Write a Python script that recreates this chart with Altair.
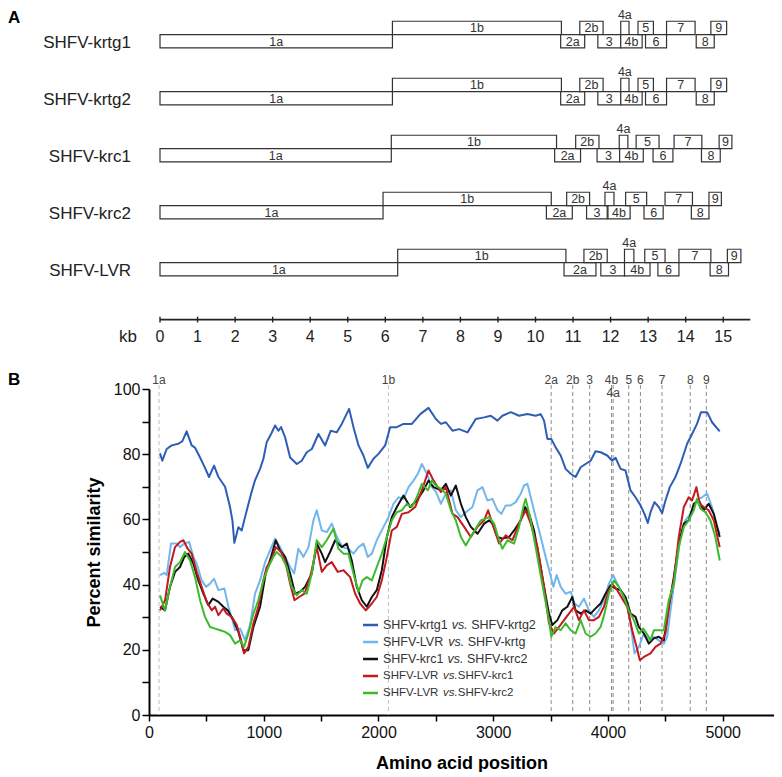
import altair as alt
import pandas as pd

FONT = "Liberation Sans"

# ---------------- Panel A data (genome maps, kb) ----------------
genomes = ["SHFV-krtg1", "SHFV-krtg2", "SHFV-krc1", "SHFV-krc2", "SHFV-LVR"]
orf_names = ["1a", "1b", "2a", "2b", "3", "4a", "4b", "5", "6", "7", "8", "9"]
upper_orfs = ["1b", "2b", "4a", "5", "7", "9"]

krtg1_start = [0.00, 6.19, 10.67, 11.18, 11.66, 12.27, 12.27, 12.73, 12.93, 13.49, 14.28, 14.67]
krtg1_end = [6.19, 10.69, 11.31, 11.80, 12.27, 12.49, 12.84, 13.14, 13.49, 14.25, 14.76, 15.09]
krtg2_start = [0.00, 6.19, 10.67, 11.18, 11.66, 12.27, 12.27, 12.73, 12.93, 13.49, 14.28, 14.67]
krtg2_end = [6.19, 10.69, 11.31, 11.80, 12.27, 12.49, 12.84, 13.14, 13.49, 14.25, 14.76, 15.09]
krc1_start = [0.00, 6.16, 10.51, 11.07, 11.64, 12.23, 12.24, 12.68, 13.13, 13.69, 14.42, 14.89]
krc1_end = [6.16, 10.56, 11.20, 11.69, 12.25, 12.46, 12.87, 13.29, 13.66, 14.43, 14.92, 15.23]
krc2_start = [0.00, 5.94, 10.29, 10.83, 11.36, 11.85, 11.93, 12.40, 12.89, 13.45, 14.15, 14.62]
krc2_end = [5.94, 10.42, 10.98, 11.44, 11.91, 12.09, 12.52, 12.96, 13.40, 14.18, 14.62, 14.95]
lvr_start = [0.00, 6.33, 10.76, 11.29, 11.74, 12.37, 12.37, 12.91, 13.26, 13.82, 14.65, 15.11]
lvr_end = [6.33, 10.81, 11.61, 11.91, 12.38, 12.62, 13.05, 13.45, 13.82, 14.67, 15.14, 15.47]

kb_ticks = list(range(0, 16))
kb_axis_end = 15.72

# ---------------- Panel B data (similarity plot) ----------------
feature_names = ["1a", "1b", "2a", "2b", "3", "4b", "4a", "5", "6", "7", "8", "9"]
feature_pos = [87, 2087, 3505, 3693, 3841, 4031, 4045, 4181, 4283, 4471, 4717, 4857]

krtg1_vs_krtg2 = [(96, 80.3), (116, 78), (154, 81.6), (198, 82.7), (256, 83.2), (291, 84), (328, 87),
    (372, 82.7), (401, 82), (445, 79), (488, 75.8), (523, 73), (567, 76.5), (605, 73), (663, 70),
    (706, 63.8), (727, 59.7), (744, 52.8), (779, 57.6), (808, 56.6), (837, 60.7), (890, 67.9),
    (924, 72), (968, 75.5), (997, 78.6), (1026, 83.7), (1064, 86.2), (1099, 88.8), (1128, 87.2),
    (1151, 88.3), (1186, 85.2), (1230, 79), (1288, 77), (1331, 78), (1375, 80.6), (1419, 81.6),
    (1477, 86.2), (1535, 82.7), (1584, 87.2), (1637, 86.7), (1680, 89.3), (1744, 93.9), (1782, 88.3),
    (1826, 82.7), (1869, 79.6), (1907, 75.8), (1956, 78.6), (2000, 80.1), (2058, 82.7), (2102, 88.3),
    (2160, 88.3), (2218, 89.3), (2291, 89.3), (2364, 92.3), (2436, 94.2), (2500, 90.8), (2544, 89.3),
    (2587, 89.8), (2645, 87.2), (2703, 87.7), (2776, 86.7), (2848, 90.8), (2921, 91.3), (2979, 91.8),
    (3037, 90.3), (3080, 91.8), (3153, 92.9), (3225, 91.8), (3298, 92.3), (3370, 91.8), (3414, 92.3),
    (3443, 90.3), (3472, 84.7), (3506, 84.7), (3544, 82.1), (3588, 79.6), (3631, 75.5), (3675, 74),
    (3718, 73), (3762, 76), (3805, 77), (3849, 78), (3892, 80.9), (3936, 80.6), (3994, 79.6),
    (4037, 78), (4066, 78.9), (4110, 75.5), (4153, 75), (4197, 68.9), (4240, 66.8), (4284, 64.3),
    (4318, 61.7), (4347, 58.9), (4371, 62.2), (4405, 65.3), (4443, 63.8), (4472, 61.9), (4501, 65.8),
    (4539, 69.9), (4588, 73), (4632, 77), (4690, 83.2), (4733, 86.2), (4776, 89.3), (4811, 92.9),
    (4864, 92.9), (4907, 89.8), (4974, 87)]

lvr_vs_krtg = [(96, 42.9), (134, 43.6), (154, 42.9), (192, 52.6), (241, 52.6), (270, 51.5), (308, 52.6),
    (349, 53.1), (387, 48.5), (416, 46.4), (459, 41.3), (497, 39.3), (532, 40.3), (567, 41.8),
    (605, 38.3), (657, 38.8), (692, 33.2), (727, 29.1), (750, 26), (794, 26.5), (837, 23), (881, 27.6),
    (924, 37.2), (968, 41.3), (1012, 46.9), (1055, 50.5), (1099, 54.1), (1142, 51.5), (1186, 48.5),
    (1230, 45.4), (1265, 43.4), (1302, 51), (1346, 48.5), (1390, 51.5), (1433, 59.7), (1462, 62.8),
    (1506, 56.6), (1549, 56.1), (1593, 58.7), (1637, 54.6), (1686, 51.5), (1738, 51), (1782, 49.5),
    (1826, 51.5), (1869, 52.6), (1907, 48.5), (1942, 49.5), (1985, 53.6), (2044, 57.7), (2087, 60.7),
    (2131, 64.8), (2174, 66.8), (2218, 66.3), (2262, 69.9), (2305, 71.9), (2343, 74), (2378, 77),
    (2422, 74), (2465, 69.9), (2500, 68.5), (2544, 64.8), (2587, 67.9), (2631, 68.9), (2674, 62.8),
    (2718, 60.7), (2761, 62.2), (2819, 63.8), (2863, 68.9), (2906, 69.9), (2950, 65.8), (2993, 66.3),
    (3037, 62.8), (3071, 61.7), (3109, 64.3), (3153, 64.3), (3196, 65.3), (3240, 67.9), (3269, 70.4),
    (3298, 70.9), (3327, 66.8), (3370, 60.7), (3414, 54.6), (3457, 48.5), (3495, 43.4), (3524, 39.3),
    (3553, 42.9), (3588, 39.3), (3631, 37.2), (3675, 37.8), (3709, 34.2), (3747, 33.2), (3791, 35.7),
    (3834, 32.1), (3878, 30.1), (3921, 32.1), (3965, 35.2), (4008, 40.3), (4046, 42.9), (4081, 40.3),
    (4124, 37.2), (4168, 33.2), (4197, 28.1), (4231, 18.9), (4269, 20.9), (4313, 25), (4356, 22.9),
    (4400, 24), (4443, 22.9), (4487, 21.9), (4516, 24), (4545, 32.1), (4588, 43.4), (4632, 54.6),
    (4675, 59.7), (4719, 61.7), (4776, 65.8), (4820, 66.8), (4864, 67.9), (4907, 63.8), (4951, 57.7),
    (4974, 55.6)]

krc1_vs_krc2 = [(96, 33.2), (140, 32.1), (183, 39.3), (227, 43.9), (270, 45.4), (308, 48.5), (343, 49.5),
    (387, 46.4), (430, 41.3), (474, 37.2), (517, 33.7), (555, 35.7), (605, 34.7), (648, 33.2),
    (686, 32.1), (735, 29.1), (779, 25.5), (823, 19.9), (866, 19.9), (910, 27), (968, 33.2),
    (1017, 43.4), (1064, 48.5), (1105, 53.6), (1142, 50.5), (1186, 48.5), (1230, 43.4), (1273, 37.2),
    (1317, 37.8), (1360, 39.3), (1419, 43.4), (1462, 52.6), (1506, 49.5), (1535, 46.9), (1578, 50),
    (1622, 53.6), (1680, 51.5), (1724, 52.6), (1767, 47.4), (1811, 39.3), (1855, 35.2), (1898, 33.2),
    (1942, 36.2), (1985, 38.3), (2029, 44.4), (2073, 54.6), (2116, 60.7), (2160, 63.8), (2218, 67.3),
    (2276, 63.8), (2334, 65.8), (2392, 68.9), (2436, 71.9), (2480, 69.9), (2544, 68.9), (2587, 70.9),
    (2631, 67.3), (2674, 70.4), (2718, 64.8), (2761, 60.7), (2805, 57.7), (2863, 55.6), (2921, 58.7),
    (2964, 59.7), (2993, 58.7), (3037, 54.6), (3080, 54.1), (3138, 54.6), (3182, 56.6), (3240, 59.7),
    (3277, 63.8), (3312, 61.7), (3356, 56.6), (3399, 48.5), (3443, 39.3), (3486, 31.1), (3515, 27.6),
    (3559, 29.1), (3602, 32.1), (3646, 33.2), (3689, 36.2), (3718, 32.1), (3762, 31.1), (3805, 32.1),
    (3849, 31.1), (3892, 32.7), (3936, 34.2), (3979, 37.2), (4023, 39.8), (4066, 38.8), (4110, 38.3),
    (4153, 36.2), (4197, 31.1), (4240, 30.1), (4269, 27), (4313, 25), (4356, 21.9), (4400, 23.5),
    (4443, 24), (4487, 22.9), (4530, 33.2), (4574, 42.3), (4617, 52.6), (4661, 58.7), (4704, 59.7),
    (4748, 64.8), (4791, 65.8), (4835, 62.8), (4878, 64.8), (4922, 61.7), (4974, 54.6)]

lvr_vs_krc1 = [(96, 32.1), (140, 35.2), (183, 45.4), (227, 51.5), (270, 53.1), (300, 53.6), (337, 51),
    (372, 49.5), (416, 43.9), (459, 39.3), (503, 34.7), (547, 32.1), (576, 33.2), (605, 30.6),
    (648, 32.7), (677, 31.1), (721, 30.1), (765, 27.6), (802, 23), (828, 18.9), (866, 20.9),
    (910, 28.1), (953, 33.2), (997, 41.3), (1026, 45.4), (1064, 47.4), (1105, 51.5), (1151, 50),
    (1186, 47.4), (1230, 40.3), (1268, 35.2), (1308, 36.2), (1355, 37.2), (1404, 42.3), (1462, 51.5),
    (1506, 43.9), (1549, 45.9), (1593, 46.9), (1645, 43.9), (1695, 44.4), (1753, 42.3), (1797, 37.2),
    (1840, 34.2), (1890, 32.1), (1942, 34.2), (1985, 36.2), (2029, 41.3), (2073, 48.5), (2116, 56.6),
    (2160, 57.7), (2204, 61.7), (2262, 62.2), (2320, 63.8), (2378, 68.9), (2436, 75), (2480, 71.9),
    (2544, 68.4), (2587, 69.9), (2645, 61.7), (2689, 60.7), (2747, 57.7), (2805, 54.6), (2863, 57.7),
    (2921, 59.7), (2955, 62.8), (2993, 58.7), (3051, 52.6), (3109, 55.1), (3167, 53.6), (3225, 58.7),
    (3283, 62.8), (3327, 58.7), (3385, 51.5), (3443, 39.3), (3486, 28.1), (3530, 25), (3573, 27),
    (3617, 29.1), (3660, 31.1), (3704, 33.2), (3747, 29.1), (3791, 32.1), (3834, 29.1), (3878, 29.1),
    (3921, 30.1), (3965, 33.2), (4008, 38.3), (4046, 39.8), (4081, 38.3), (4124, 35.7), (4168, 33.2),
    (4211, 26), (4249, 20.9), (4278, 16.8), (4313, 17.8), (4371, 18.9), (4414, 20.9), (4458, 21.9),
    (4501, 25), (4539, 35.2), (4574, 41.3), (4617, 54.6), (4661, 63.8), (4704, 66.8), (4733, 65.8),
    (4771, 69.9), (4800, 64.8), (4835, 63.8), (4878, 62.8), (4922, 59.7), (4974, 51.5)]

lvr_vs_krc2 = [(96, 36.7), (140, 32.1), (183, 39.3), (227, 45.4), (270, 46.9), (314, 50), (358, 47.4),
    (401, 42.3), (445, 35.2), (488, 30.1), (532, 27), (576, 26.5), (620, 26), (663, 25.5), (706, 24.5),
    (750, 21.9), (794, 22.9), (828, 20.9), (866, 25), (910, 31.1), (953, 35.2), (997, 41.3),
    (1041, 45.4), (1084, 48.5), (1113, 50), (1157, 48.5), (1201, 45.4), (1244, 39.3), (1288, 36.7),
    (1331, 38.3), (1375, 37.2), (1419, 43.4), (1462, 53.6), (1506, 51.5), (1549, 53.6), (1608, 57.1),
    (1651, 51), (1695, 49.5), (1738, 49.5), (1782, 43.4), (1826, 37.8), (1861, 41.3), (1898, 42.3),
    (1942, 41.3), (1985, 45.4), (2029, 49.5), (2073, 54.6), (2116, 59.7), (2160, 62.2), (2204, 62.8),
    (2247, 64.8), (2291, 63.8), (2334, 66.8), (2378, 70.9), (2430, 68.9), (2465, 71.9), (2500, 70.4),
    (2544, 69.4), (2587, 67.9), (2631, 62.8), (2674, 59.7), (2718, 54.6), (2761, 52), (2819, 55.6),
    (2892, 59.7), (2964, 60.7), (3008, 58.7), (3051, 53.6), (3080, 51), (3124, 53.6), (3182, 52.6),
    (3225, 57.7), (3269, 64.8), (3283, 66.3), (3327, 59.7), (3385, 48.5), (3443, 37.2), (3486, 29.1),
    (3506, 24), (3544, 27), (3588, 26), (3631, 28.1), (3675, 26), (3718, 25), (3762, 29.1), (3805, 25),
    (3849, 24), (3892, 25), (3936, 27), (3970, 31.1), (4008, 37.2), (4052, 41.3), (4095, 39.3),
    (4139, 36.2), (4182, 32.1), (4226, 29.1), (4269, 25), (4307, 26.5), (4336, 25), (4371, 23),
    (4400, 26), (4443, 26), (4487, 26), (4530, 35.2), (4574, 40.3), (4617, 51.5), (4661, 57.7),
    (4704, 59.7), (4748, 62.8), (4776, 66.3), (4806, 63.3), (4849, 62.2), (4893, 59.7), (4936, 54.6),
    (4974, 47.4)]

series_names = ["krtg1_vs_krtg2", "lvr_vs_krtg", "krc1_vs_krc2", "lvr_vs_krc1", "lvr_vs_krc2"]
series_data = [krtg1_vs_krtg2, lvr_vs_krtg, krc1_vs_krc2, lvr_vs_krc1, lvr_vs_krc2]
series_colors = ["#2d5db5", "#72b6ee", "#111111", "#c21a1f", "#3dba2c"]
legend_left = ["SHFV-krtg1", "SHFV-LVR", "SHFV-krc1", "SHFV-LVR", "SHFV-LVR"]
legend_right = ["SHFV-krtg2", "SHFV-krtg", "SHFV-krc2", "SHFV-krc1", "SHFV-krc2"]

# ---------------- layout constants ----------------
PLOT_W = 625
A_H = 337
B_H = 326
BOX = 0.234
KB_PX = 37.55
xA_dom = [-11 / KB_PX, (PLOT_W - 11) / KB_PX]
yA_dom = [-0.3965, -0.3965 + A_H / 57.0]

ARIAL = {'S': 667, 'H': 722, 'F': 611, 'V': 667, '-': 333, 'L': 556, 'R': 722, 'k': 500, 'r': 333,
         't': 278, 'g': 556, 'c': 500, 'v': 500, 's': 500, '.': 278, ' ': 278, '1': 556, '2': 556}


def text_w(s, size):
    return sum(ARIAL.get(ch, 556) for ch in s) * size / 1000.0


# ---------------- Panel A ----------------
starts = [krtg1_start, krtg2_start, krc1_start, krc2_start, lvr_start]
ends = [krtg1_end, krtg2_end, krc1_end, krc2_end, lvr_end]
recs = []
for gi, g in enumerate(genomes):
    for name, s, e in zip(orf_names, starts[gi], ends[gi]):
        up = name in upper_orfs
        y0 = gi - BOX if up else gi
        y1 = gi if up else gi + BOX
        ly = y0 - 0.12 if name == "4a" else (y0 + y1) / 2
        recs.append(dict(genome=g, orf=name, start=s, end=e, mid=(s + e) / 2, y0=y0, y1=y1, ly=ly))
dfA = pd.DataFrame(recs)
dfG = pd.DataFrame({"genome": genomes, "gy": [i + BOX / 2 for i in range(len(genomes))]})
dfKB = pd.DataFrame({"kb": kb_ticks, "lab": [str(k) for k in kb_ticks]})
dfKB["ya"] = 4.95
dfKB["yb"] = 5.05
dfKB["yl"] = 5.30
dfAx = pd.DataFrame({"x0": [0.0], "x1": [kb_axis_end], "y": [5.0], "yl": [5.30], "t": ["kb"]})

xsA = alt.Scale(domain=xA_dom, nice=False, zero=False)
ysA = alt.Scale(domain=yA_dom, reverse=True, nice=False, zero=False)

boxes = alt.Chart(dfA).mark_rect(fill="white", stroke="#333333", strokeWidth=1.2).encode(
    x=alt.X("start:Q", scale=xsA, axis=None), x2="end:Q",
    y=alt.Y("y0:Q", scale=ysA, axis=None), y2="y1:Q")
box_text = alt.Chart(dfA).mark_text(font=FONT, fontSize=12.5, color="#333333", baseline="middle", dy=0.5).encode(
    x=alt.X("mid:Q", scale=xsA, axis=None), y=alt.Y("ly:Q", scale=ysA, axis=None), text="orf:N")
gen_text = alt.Chart(dfG).mark_text(font=FONT, fontSize=17, color="#222222", align="right",
                                    baseline="middle", dy=2).encode(
    x=alt.value(-18), y=alt.Y("gy:Q", scale=ysA, axis=None), text="genome:N")
kb_line = alt.Chart(dfAx).mark_rule(color="#222222", strokeWidth=1.6).encode(
    x=alt.X("x0:Q", scale=xsA, axis=None), x2="x1:Q", y=alt.Y("y:Q", scale=ysA, axis=None))
kb_tick = alt.Chart(dfKB).mark_rule(color="#222222", strokeWidth=1.4).encode(
    x=alt.X("kb:Q", scale=xsA, axis=None), y=alt.Y("ya:Q", scale=ysA, axis=None), y2="yb:Q")
kb_lab = alt.Chart(dfKB).mark_text(font=FONT, fontSize=16, color="#222222", baseline="middle").encode(
    x=alt.X("kb:Q", scale=xsA, axis=None), y=alt.Y("yl:Q", scale=ysA, axis=None), text="lab:N")
kb_name = alt.Chart(dfAx).mark_text(font=FONT, fontSize=17, color="#222222", align="right",
                                    baseline="middle").encode(
    x=alt.value(-12), y=alt.Y("yl:Q", scale=ysA, axis=None), text="t:N")
a_lab = alt.Chart(pd.DataFrame({"t": ["A"]})).mark_text(font=FONT, fontSize=17, fontWeight="bold",
                                                      align="left", baseline="middle", color="black").encode(
    x=alt.value(-141), y=alt.value(6), text="t:N")

panelA = alt.layer(boxes, box_text, gen_text, kb_line, kb_tick, kb_lab, kb_name, a_lab).properties(
    width=PLOT_W, height=A_H)

# ---------------- Panel B ----------------
xsB = alt.Scale(domain=[0, PLOT_W / 0.11474], nice=False, zero=False)
ysB = alt.Scale(domain=[0, 100], nice=False, zero=False)
x_axis = alt.Axis(values=list(range(0, 5001, 500)), format="d",
                  labelExpr="datum.value % 1000 === 0 ? datum.label : ''",
                  title="Amino acid position", titleFont=FONT, titleFontSize=18, titleFontWeight="bold",
                  titleColor="black", labelFont=FONT, labelFontSize=16, labelColor="#111111",
                  domainColor="black", domainWidth=2, tickColor="black", tickWidth=1.5, tickSize=6,
                  labelPadding=3, titlePadding=14, grid=False, labelFlush=False)
y_axis = alt.Axis(values=list(range(0, 101, 10)),
                  labelExpr="datum.value % 20 === 0 ? datum.label : ''",
                  title="Percent similarity", titleFont=FONT, titleFontSize=18, titleFontWeight="bold",
                  titleColor="black", labelFont=FONT, labelFontSize=16, labelColor="#111111",
                  domainColor="black", domainWidth=2, tickColor="black", tickWidth=1.5, tickSize=7,
                  labelPadding=2, titlePadding=10, grid=False, labelFlush=False)


def XB(field):
    return alt.X(field, scale=xsB, axis=x_axis)


def YB(field):
    return alt.Y(field, scale=ysB, axis=y_axis)


dfF = pd.DataFrame({"feat": feature_names, "pos": feature_pos})
dfF["major"] = dfF["feat"].isin(["1a", "1b"])

layersB = []
layersB.append(alt.Chart(dfF[dfF["major"]]).mark_rule(color="#c4c4c4", strokeWidth=1.1, strokeDash=[4, 3]).encode(
    x=XB("pos:Q"), y=alt.value(-4), y2=alt.value(B_H)))
layersB.append(alt.Chart(dfF[~dfF["major"]]).mark_rule(color="#8c8c8c", strokeWidth=1, strokeDash=[4, 3]).encode(
    x=XB("pos:Q"), y=alt.value(-4), y2=alt.value(B_H)))
layersB.append(alt.Chart(dfF[dfF["feat"] != "4a"]).mark_text(font=FONT, fontSize=12, color="#444444",
                                                          baseline="middle").encode(
    x=XB("pos:Q"), y=alt.value(-9), text="feat:N"))
layersB.append(alt.Chart(dfF[dfF["feat"] == "4a"]).mark_text(font=FONT, fontSize=12, color="#444444",
                                                          baseline="middle").encode(
    x=XB("pos:Q"), y=alt.value(4), text="feat:N"))

for name, data, col in zip(series_names, series_data, series_colors):
    d = pd.DataFrame(data, columns=["aa", "sim"])
    layersB.append(alt.Chart(d).mark_line(color=col, strokeWidth=2, strokeJoin="round").encode(
        x=XB("aa:Q"), y=YB("sim:Q")))

one = pd.DataFrame({"k": [0]})
for i in range(5):
    yy = 236 + 17 * i
    size = 12.5 if i < 3 else 11.5
    sep = " " if i < 3 else ""
    x0 = 234
    x1 = x0 + text_w(legend_left[i] + " ", size)
    x2 = x1 + text_w("vs." + sep, size)
    layersB.append(alt.Chart(one).mark_rule(color=series_colors[i], strokeWidth=2.5).encode(
        x=alt.value(214), x2=alt.value(229), y=alt.value(yy)))
    for txt, xx, style in [(legend_left[i], x0, "normal"), ("vs.", x1, "italic"), (legend_right[i], x2, "normal")]:
        layersB.append(alt.Chart(pd.DataFrame({"t": [txt]})).mark_text(
            font=FONT, fontSize=size, fontStyle=style, color="#333333", align="left", baseline="middle").encode(
            x=alt.value(xx), y=alt.value(yy), text="t:N"))

layersB.append(alt.Chart(pd.DataFrame({"t": ["B"]})).mark_text(
    font=FONT, fontSize=17, fontWeight="bold", align="left", baseline="middle", color="black").encode(
    x=alt.value(-141), y=alt.value(-9), text="t:N"))

panelB = alt.layer(*layersB).properties(width=PLOT_W, height=B_H)

chart = alt.vconcat(panelA, panelB, spacing=22).properties(padding=0).configure_view(stroke=None)

chart.save("out.html", embed_options={"renderer": "svg", "actions": False})
